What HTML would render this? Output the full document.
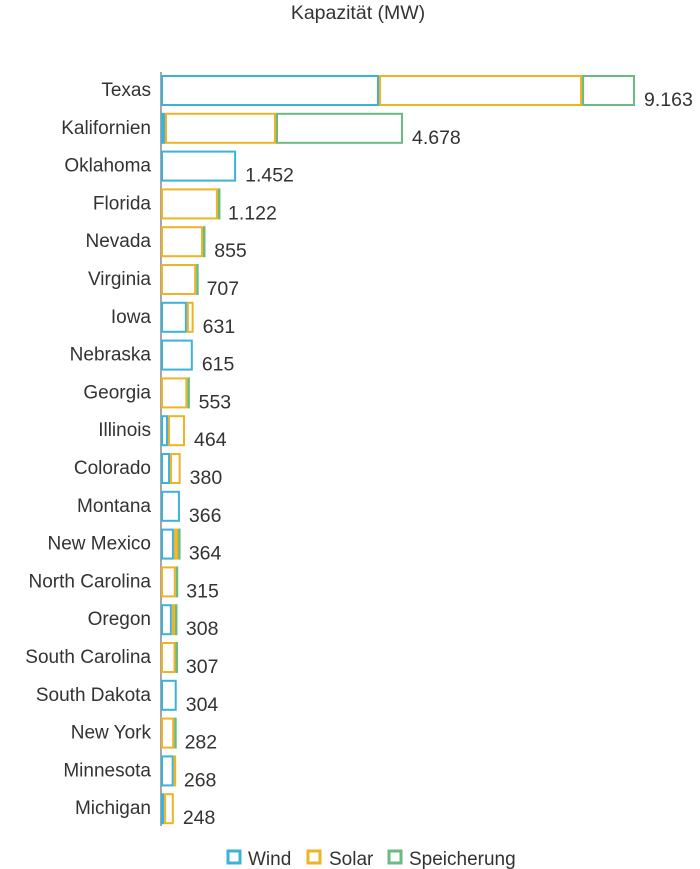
<!DOCTYPE html>
<html><head><meta charset="utf-8"><style>
html,body{margin:0;padding:0;background:#fff;width:700px;height:869px;overflow:hidden}
text{font-family:"Liberation Sans",sans-serif;fill:#333}
</style></head><body>
<svg id="chart" width="700" height="869" xmlns="http://www.w3.org/2000/svg">
<text x="358" y="19" text-anchor="middle" font-size="19.5">Kapazität (MW)</text>
<line x1="161" y1="72" x2="161" y2="826" stroke="#888" stroke-width="1.5"/>
<g id="bars"></g>
<g>
<rect x="228" y="851" width="12" height="12" fill="none" stroke="#3bb3d9" stroke-width="3"/>
<text x="248" y="865" font-size="19">Wind</text>
<rect x="308" y="851" width="12" height="12" fill="none" stroke="#f0b323" stroke-width="3"/>
<text x="329" y="865" font-size="19">Solar</text>
<rect x="389" y="851" width="12" height="12" fill="none" stroke="#6abb7f" stroke-width="3"/>
<text x="409" y="865" font-size="19">Speicherung</text>
</g>
</svg>
<script>
const states=["Texas","Kalifornien","Oklahoma","Florida","Nevada","Virginia","Iowa","Nebraska","Georgia","Illinois","Colorado","Montana","New Mexico","North Carolina","Oregon","South Carolina","South Dakota","New York","Minnesota","Michigan"];
const wind=[4214,77,1452,0,0,0,500,615,0,135,175,366,250,0,210,0,304,0,245,60];
const solar=[3925,2146,0,1100,812,680,131,0,510,329,205,0,80,285,60,280,0,255,23,188];
const storage=[1024,2455,0,22,43,27,0,0,43,0,0,0,34,30,38,27,0,27,0,0];
const totals=["9.163","4.678","1.452","1.122","855","707","631","615","553","464","380","366","364","315","308","307","304","282","268","248"];
const x0=161, pxPerMW=474/9163;
function xs(v){return x0+v*pxPerMW;}
function yc(i){return 90+i*37.8;}
const NS="http://www.w3.org/2000/svg";
const g=document.getElementById('bars');
const cols=["#3bb3d9","#f0b323","#6abb7f"];
const names=["wind","solar","storage"];
states.forEach((s,i)=>{
  const lab=document.createElementNS(NS,'text');
  
  
  lab.setAttribute('x',151);lab.setAttribute('y',yc(i)+6);
  lab.setAttribute('text-anchor','end');lab.setAttribute('font-size','19');
  lab.textContent=s;g.appendChild(lab);
  let acc=0;
  [wind[i],solar[i],storage[i]].forEach((v,k)=>{
    if(v<=0)return;
    const r=document.createElementNS(NS,'rect');
    
    
    const w=Math.max(v*pxPerMW-2,0.5);
    r.setAttribute('x',xs(acc)+1);r.setAttribute('y',yc(i)-14);
    r.setAttribute('width',w);r.setAttribute('height',29);
    r.setAttribute('fill','#fff');r.setAttribute('stroke',cols[k]);r.setAttribute('stroke-width','2');
    g.appendChild(r);acc+=v;
  });
  const t=document.createElementNS(NS,'text');
  
  
  t.setAttribute('x',xs(acc)+9);t.setAttribute('y',yc(i)+16);
  t.setAttribute('font-size','19.5');
  t.textContent=totals[i];g.appendChild(t);
});
</script>
</body></html>
